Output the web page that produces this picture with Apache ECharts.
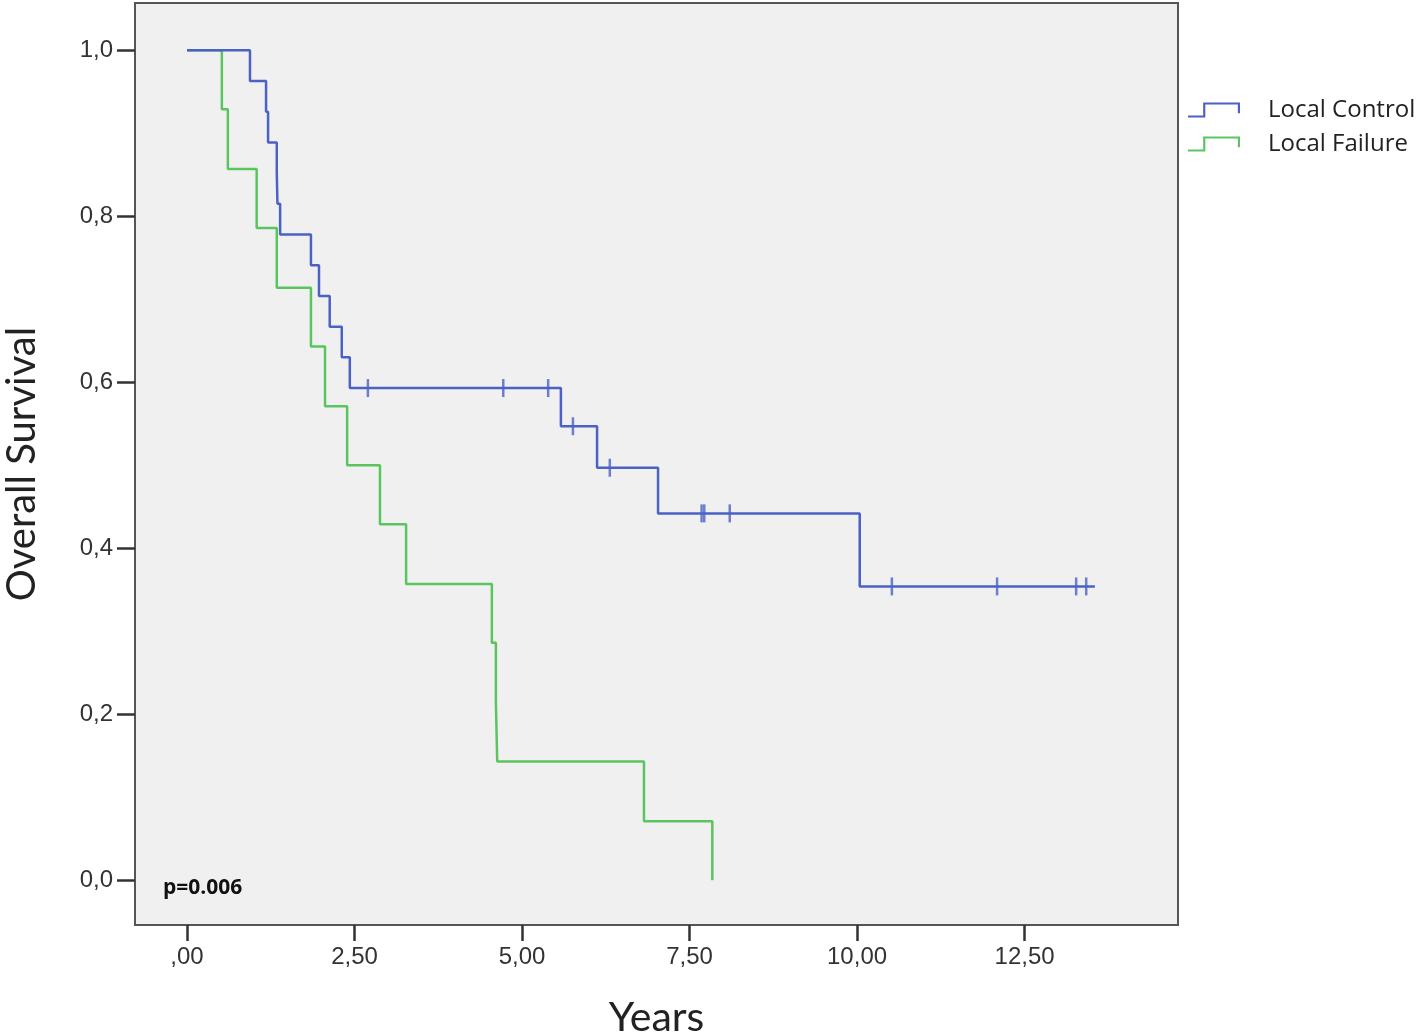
<!DOCTYPE html>
<html>
<head>
<meta charset="utf-8">
<title>Overall Survival</title>
<script src="https://cdn.jsdelivr.net/npm/echarts@6/dist/echarts.min.js"></script>
<style>
  html, body { margin: 0; padding: 0; background: #fff; }
  #chart { width: 1418px; height: 1035px; }
</style>
</head>
<body>
<div id="chart"></div>
<script>
// Local Control: event times (years) and survival after each event
const controlTimes = [0, 0.94, 1.18, 1.21, 1.34, 1.35, 1.39, 1.85, 1.97, 2.13, 2.31, 2.43, 5.58, 6.12, 7.03, 10.04, 13.55]
const controlSurv = [1, 0.963, 0.926, 0.889, 0.852, 0.815, 0.778, 0.741, 0.704, 0.667, 0.630, 0.593, 0.547, 0.497, 0.442, 0.354, 0.354]
const controlCensored = [2.70, 4.72, 5.39, 5.76, 6.31, 7.68, 7.72, 8.10, 10.52, 12.09, 13.27, 13.42]

// Local Failure
const failureTimes = [0, 0.52, 0.61, 1.04, 1.34, 1.85, 2.06, 2.39, 2.88, 3.27, 4.55, 4.61, 4.63, 6.82, 7.84]
const failureSurv = [1, 0.929, 0.857, 0.786, 0.714, 0.643, 0.571, 0.500, 0.429, 0.357, 0.286, 0.214, 0.143, 0.071, 0]

const xTicks = [0, 2.5, 5, 7.5, 10, 12.5]
const yTicks = [0, 0.2, 0.4, 0.6, 0.8, 1.0]
const seriesNames = ['Local Control', 'Local Failure']
const pValueText = 'p=0.006'

const blue = '#4b62c4'
const green = '#5ac55e'

const survAt = (times, surv, t) => {
  let s = surv[0]
  for (let i = 0; i < times.length; i++) {
    if (times[i] <= t) s = surv[i]
  }
  return s
}

const pairs = (xs, ys) => xs.map((x, i) => [x, ys[i]])

const stepIcon = 'path://M0,14 L14,14 L14,2 L48,2 L48,12 L46,12 L46,4 L16,4 L16,16 L0,16 Z'

const chart = echarts.init(document.getElementById('chart'))

chart.setOption({
  animation: false,
  textStyle: { fontFamily: 'Liberation Sans, Arial, sans-serif' },
  grid: {
    left: 135,
    top: 3,
    right: 240,
    bottom: 110,
    containLabel: false,
    outerBoundsMode: 'none',
    show: true,
    backgroundColor: '#f0f0f0',
    borderColor: '#555',
    borderWidth: 2
  },
  legend: {
    orient: 'vertical',
    left: 1183,
    top: 93,
    itemWidth: 52,
    itemHeight: 16,
    itemGap: 10,
    data: seriesNames.map(n => ({ name: n, icon: stepIcon })),
    textStyle: {
      fontFamily: 'Open Sans, sans-serif',
      fontSize: 24,
      color: '#222',
      lineHeight: 24,
      padding: [0, 0, 0, 23]
    }
  },
  xAxis: {
    type: 'value',
    min: -0.776,
    max: 14.79,
    name: 'Years',
    nameLocation: 'middle',
    nameGap: 72,
    nameTextStyle: { fontFamily: 'Lato, sans-serif', fontSize: 41, color: '#222' },
    splitLine: { show: false },
    axisLine: { show: true, onZero: false, lineStyle: { color: '#555', width: 2 } },
    axisTick: {
      show: true,
      customValues: xTicks,
      length: 16,
      lineStyle: { color: '#333', width: 2.5 }
    },
    axisLabel: {
      customValues: xTicks,
      margin: 20,
      fontSize: 24,
      color: '#333',
      formatter: v => v === 0 ? ',00' : v.toFixed(2).replace('.', ',')
    }
  },
  yAxis: {
    type: 'value',
    min: -0.054,
    max: 1.057,
    name: 'Overall Survival',
    nameLocation: 'middle',
    nameGap: 93,
    nameTextStyle: { fontFamily: 'Lato, sans-serif', fontSize: 40, color: '#222' },
    splitLine: { show: false },
    axisLine: { show: true, onZero: false, lineStyle: { color: '#555', width: 2 } },
    axisTick: {
      show: true,
      customValues: yTicks,
      length: 18,
      lineStyle: { color: '#333', width: 2.5 }
    },
    axisLabel: {
      customValues: yTicks,
      margin: 22,
      fontSize: 24,
      color: '#333',
      formatter: v => v.toFixed(1).replace('.', ',')
    }
  },
  graphic: [{
    type: 'text',
    left: 163,
    top: 878,
    style: {
      text: pValueText,
      font: 'bold 21px "Open Sans", sans-serif',
      fill: '#111'
    }
  }],
  series: [
    {
      name: seriesNames[0],
      type: 'line',
      step: 'end',
      symbol: 'none',
      color: blue,
      lineStyle: { width: 2.5, color: blue },
      data: pairs(controlTimes, controlSurv),
      z: 3
    },
    {
      name: seriesNames[1],
      type: 'line',
      step: 'end',
      symbol: 'none',
      color: green,
      lineStyle: { width: 2.5, color: green },
      data: pairs(failureTimes, failureSurv),
      z: 2
    },
    {
      name: 'censored',
      type: 'scatter',
      symbol: 'rect',
      symbolSize: [2.5, 18],
      itemStyle: { color: blue },
      data: controlCensored.map(t => [t, survAt(controlTimes, controlSurv, t)]),
      z: 4
    }
  ]
})
</script>
</body>
</html>
